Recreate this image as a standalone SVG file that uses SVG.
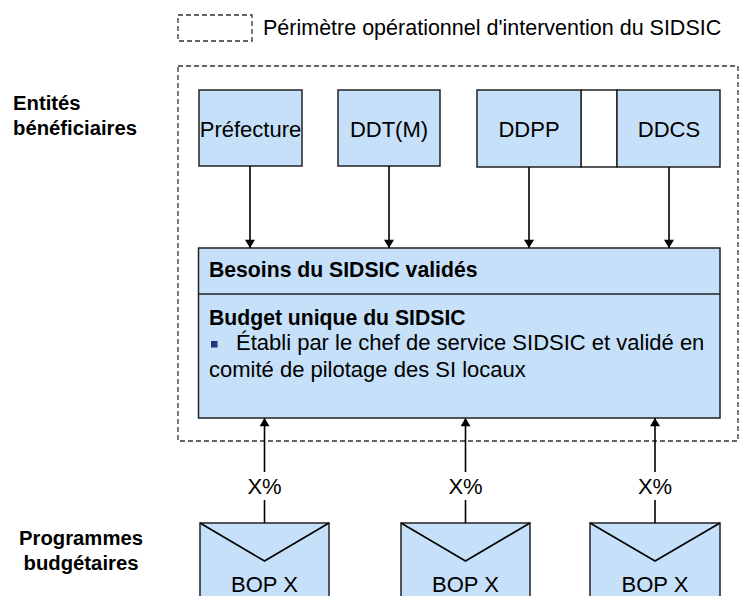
<svg xmlns="http://www.w3.org/2000/svg" width="739" height="596" viewBox="0 0 739 596">
<style>
text{font-family:"Liberation Sans",Arial,sans-serif;font-size:22px;fill:#000}
.leg{font-size:21.5px}
.b{font-weight:bold;font-size:21.2px}
.lbl{font-weight:bold;font-size:20.3px}
.box{fill:#c6e0f9;stroke:#222;stroke-width:1.5}
.dash{fill:none;stroke:#333;stroke-width:1.3;stroke-dasharray:5 3}
.c{stroke:#000;stroke-width:1.6;fill:none}
.mid{text-anchor:middle}
</style>
<defs>
<marker id="ah" viewBox="0 0 10 12" refX="10" refY="6" markerWidth="12" markerHeight="10" markerUnits="userSpaceOnUse" orient="auto"><path d="M0,0 L10,6 L0,12 z" fill="#000"/></marker>
</defs>
<rect width="739" height="596" fill="#fff"/>
<g id="legend">
<rect class="dash" x="178" y="15" width="74" height="26"/>
<text class="leg" x="263" y="35">Périmètre opérationnel d'intervention du SIDSIC</text>
</g>
<g id="perimeter">
<rect class="dash" x="178" y="66" width="560" height="375"/>
</g>
<g id="label-entites">
<text class="lbl" x="13" y="110">Entités</text>
<text class="lbl" x="13" y="135">bénéficiaires</text>
</g>
<g id="label-programmes">
<text class="lbl mid" x="81" y="545">Programmes</text>
<text class="lbl mid" x="81" y="570">budgétaires</text>
</g>
<g id="prefecture">
<rect class="box" x="199" y="90" width="103" height="76"/>
<text class="mid" x="250.5" y="137">Préfecture</text>
</g>
<g id="ddtm">
<rect class="box" x="338" y="90" width="102" height="76"/>
<text class="mid" x="389" y="137">DDT(M)</text>
</g>
<g id="ddpp-ddcs">
<rect x="581" y="90" width="36" height="77" fill="#fff" stroke="#222" stroke-width="1.5"/>
<rect class="box" x="477" y="90" width="104" height="77"/>
<rect class="box" x="617" y="90" width="103" height="77"/>
<text class="mid" x="529" y="137">DDPP</text>
<text class="mid" x="669" y="137">DDCS</text>
</g>
<g id="budget">
<rect class="box" x="198.5" y="248" width="521.5" height="170"/>
<line x1="198.5" y1="294" x2="720" y2="294" stroke="#222" stroke-width="1.5"/>
<text class="b" x="209" y="277">Besoins du SIDSIC validés</text>
<text class="b" x="209" y="325">Budget unique du SIDSIC</text>
<rect x="211" y="341" width="6.5" height="6.5" fill="#1f3a7a"/>
<text x="236" y="350">Établi par le chef de service SIDSIC et validé en</text>
<text x="209" y="377">comité de pilotage des SI locaux</text>
</g>
<g id="bop1">
<rect class="box" x="200" y="523" width="129" height="80"/>
<polyline class="c" points="200,523 264.5,561 329,523" stroke-width="1.2"/>
<text class="mid" x="264.5" y="592">BOP X</text>
</g>
<g id="bop2">
<rect class="box" x="401" y="523" width="129" height="80"/>
<polyline class="c" points="401,523 465.5,561 530,523" stroke-width="1.2"/>
<text class="mid" x="465.5" y="592">BOP X</text>
</g>
<g id="bop3">
<rect class="box" x="590" y="523" width="130" height="80"/>
<polyline class="c" points="590,523 655,561 720,523" stroke-width="1.2"/>
<text class="mid" x="655" y="592">BOP X</text>
</g>
<g id="connectors">
<line class="c" x1="250" y1="166" x2="250" y2="248" marker-end="url(#ah)"/>
<line class="c" x1="389" y1="166" x2="389" y2="248" marker-end="url(#ah)"/>
<line class="c" x1="529" y1="167" x2="529" y2="248" marker-end="url(#ah)"/>
<line class="c" x1="669" y1="167" x2="669" y2="248" stroke-width="2" marker-end="url(#ah)"/>
<line class="c" x1="264.5" y1="523" x2="264.5" y2="500"/>
<line class="c" x1="264.5" y1="472" x2="264.5" y2="418" marker-end="url(#ah)"/>
<text class="mid" x="264.5" y="494">X%</text>
<line class="c" x1="465.5" y1="523" x2="465.5" y2="500"/>
<line class="c" x1="465.5" y1="472" x2="465.5" y2="418" marker-end="url(#ah)"/>
<text class="mid" x="465.5" y="494">X%</text>
<line class="c" x1="655" y1="523" x2="655" y2="500"/>
<line class="c" x1="655" y1="472" x2="655" y2="418" marker-end="url(#ah)"/>
<text class="mid" x="655" y="494">X%</text>
</g>
</svg>
